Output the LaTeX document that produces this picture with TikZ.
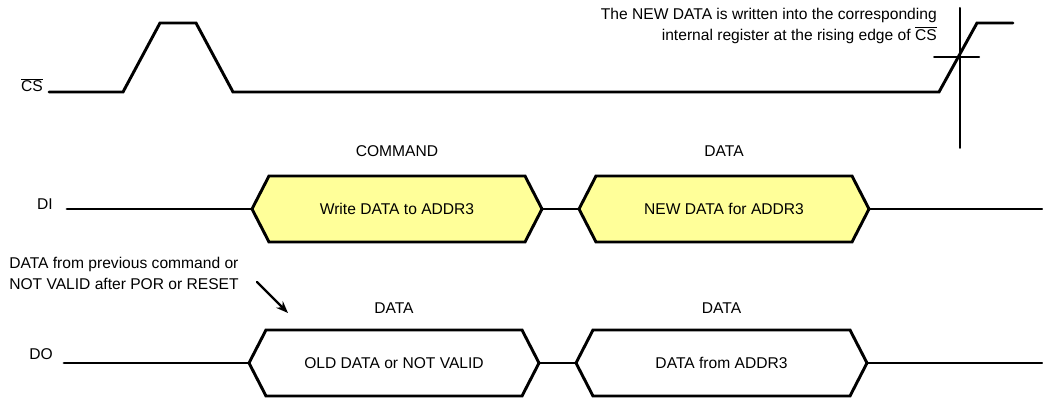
\documentclass[tikz,border=0pt]{standalone}
\usepackage{fontspec}
\setmainfont{Liberation Sans}
\usetikzlibrary{arrows.meta,calc}
\definecolor{busyellow}{RGB}{255,255,153}
\tikzset{
	signal/.style={line width=2.2pt},
	marker/.style={line width=1.5pt},
	busbox/.style={line width=2.2pt, line join=miter},
	lbl/.style={inner sep=0pt},
}
\begin{document}
\begin{tikzpicture}[x=0.75pt, y=-0.75pt, font=\fontsize{11.7}{15.5}\selectfont, line cap=round, >={Stealth[length=9pt,width=7pt]}]
	\useasboundingbox (0,0) rectangle (1043,398);
	\def\s{17} % pente du bus
	\def\hh{33} % demi-hauteur du bus
	\def\ycs{92} % CS bas
	\def\ycsh{23} % CS haut
	\def\ydi{209}
	\def\ydo{363}
	% CS
	\node[lbl, anchor=base east] (cs) at (43,\ycs) {$\overline{\mbox{CS}}$};
	\draw[signal] (49,\ycs)--(123,\ycs)--(160,\ycsh)--(196,\ycsh)--(233,\ycs)--(939,\ycs)--(977,\ycsh)--(1013,\ycsh);
	\draw[marker] (960,8)--(960,148);
	\draw[marker] (934,57)--(979,57);
	\node[lbl, anchor=north east, align=right] (note) at (937,8) {The NEW DATA is written into the corresponding\\internal register at the rising edge of $\overline{\mbox{CS}}$};
	% DI
	\node[lbl, anchor=base east] (di) at (53,\ydi+1) {DI};
	\coordinate (di0) at (67,\ydi);
	\coordinate (cmdL) at (252,\ydi);
	\coordinate (cmdR) at (542,\ydi);
	\coordinate (newL) at (579,\ydi);
	\coordinate (newR) at (869,\ydi);
	\coordinate (di1) at (1042,\ydi);
	\draw[signal] (di0)--(cmdL) (cmdR)--(newL) (newR)--(di1);
	\draw[busbox, fill=busyellow] (cmdL)--++(\s,-\hh)--($(cmdR)+(-\s,-\hh)$)--(cmdR)--++(-\s,\hh)--($(cmdL)+(\s,\hh)$)--cycle;
	\draw[busbox, fill=busyellow] (newL)--++(\s,-\hh)--($(newR)+(-\s,-\hh)$)--(newR)--++(-\s,\hh)--($(newL)+(\s,\hh)$)--cycle;
	\node (cmd) at ($(cmdL)!.5!(cmdR)$) {Write DATA to ADDR3};
	\node (new) at ($(newL)!.5!(newR)$) {NEW DATA for ADDR3};
	\node (cmdt) at ($(cmd)+(0,-58)$) {COMMAND};
	\node (newt) at ($(new)+(0,-58)$) {DATA};
	% DO
	\node[lbl, anchor=base east] (do) at (53,\ydo-3) {DO};
	\coordinate (do0) at (64,\ydo);
	\coordinate (oldL) at (249,\ydo);
	\coordinate (oldR) at (539,\ydo);
	\coordinate (adrL) at (576,\ydo);
	\coordinate (adrR) at (867,\ydo);
	\coordinate (do1) at (1042,\ydo);
	\draw[signal] (do0)--(oldL) (oldR)--(adrL) (adrR)--(do1);
	\draw[busbox] (oldL)--++(\s,-\hh)--($(oldR)+(-\s,-\hh)$)--(oldR)--++(-\s,\hh)--($(oldL)+(\s,\hh)$)--cycle;
	\draw[busbox] (adrL)--++(\s,-\hh)--($(adrR)+(-\s,-\hh)$)--(adrR)--++(-\s,\hh)--($(adrL)+(\s,\hh)$)--cycle;
	\node (old) at ($(oldL)!.5!(oldR)$) {OLD DATA or NOT VALID};
	\node (adr) at ($(adrL)!.5!(adrR)$) {DATA from ADDR3};
	\node (oldt) at ($(old)+(0,-55)$) {DATA};
	\node (adrt) at ($(adr)+(0,-55)$) {DATA};
	% remarque
	\node[lbl, anchor=north west, align=left] (prev) at (9,257) {DATA from previous command or\\NOT VALID after POR or RESET};
	\coordinate (tail) at (257,282);
	\coordinate (tip) at (288,313);
	\draw[->, line width=1.6pt] (tail)--(tip);
\end{tikzpicture}
\end{document}
